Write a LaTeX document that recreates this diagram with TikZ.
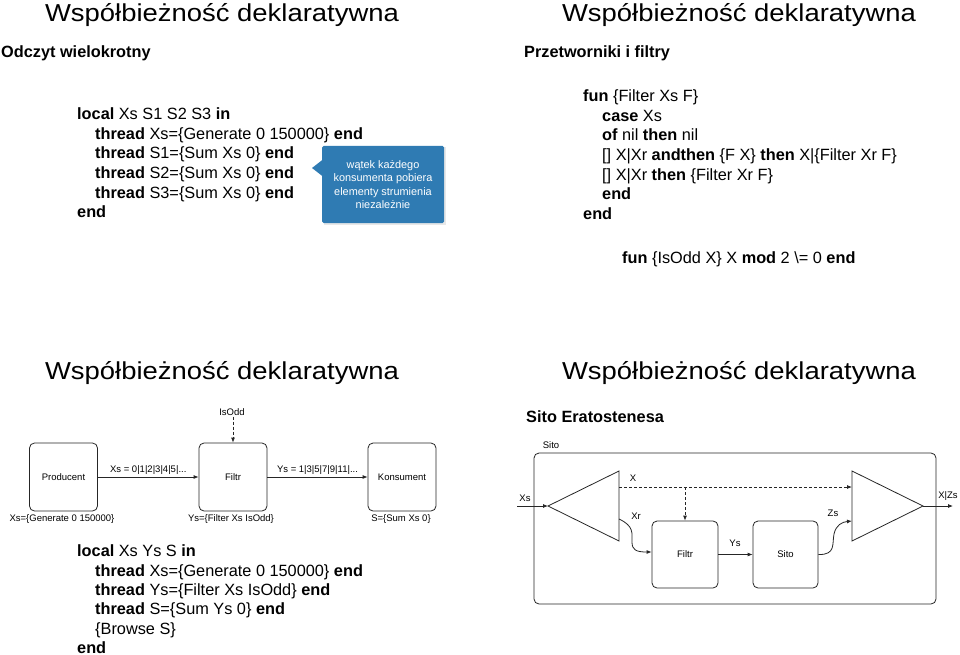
\documentclass[tikz,border=0pt]{standalone}
\usepackage{fontspec}
\setmainfont{Liberation Sans}
\newfontfamily\titlefont[FakeStretch=1.12]{Liberation Sans}
\usetikzlibrary{arrows.meta,calc}
\definecolor{cblue}{HTML}{2F7BB3}
\newcommand\fsTitle{\titlefont\fontsize{24.5}{28}\selectfont}
\newcommand\fsCode{\fontsize{16.3}{19.5}\selectfont}
\newcommand\fsCall{\fontsize{10.9}{13.3}\selectfont}
\newcommand\fsDiag{\fontsize{9.5}{11}\selectfont}
\newcommand\kw[1]{\textbf{#1}}
\begin{document}
\begin{tikzpicture}[x=1pt,y=-1pt,
  title/.style={anchor=base,inner sep=0pt,font=\fsTitle},
  subhead/.style={anchor=base west,inner sep=0pt,font=\fsCode\bfseries},
  code/.style={anchor=base west,inner sep=0pt,font=\fsCode},
  callout/.style={fill=cblue,text=white,font=\fsCall,align=center,minimum width=122pt,minimum height=77pt,inner sep=0pt,rounded corners=1.5pt},
  dlabel/.style={font=\fsDiag,inner sep=1pt},
  procbox/.style={draw=black!85,line width=0.8pt,rounded corners=5pt,minimum width=68pt,minimum height=68pt,inner sep=0pt,font=\fsDiag},
  wire/.style={draw=black!85,line width=0.8pt},
  arr/.style={wire,-{Latex[length=5pt,width=4pt]}},
  dsh/.style={dash pattern=on 3pt off 2pt}]
\useasboundingbox (0,0) rectangle (960,655);
\fill[white] (0,0) rectangle (960,655);

% ---------- titles ----------
\node[title] (t1) at (222,21.5) {Współbieżność deklaratywna};
\node[title] (t2) at (739,21.5) {Współbieżność deklaratywna};
\node[title] (t3) at (222,379.5) {Współbieżność deklaratywna};
\node[title] (t4) at (739,379.5) {Współbieżność deklaratywna};

% ---------- top-left ----------
\node[subhead] (h1) at (1,58) {Odczyt wielokrotny};
\node[code] (a1) at (77,120) {\kw{local} Xs S1 S2 S3 \kw{in}};
\node[code] (a2) at (95,139.5) {\kw{thread} Xs=\{Generate 0 150000\} \kw{end}};
\node[code] (a3) at (95,159) {\kw{thread} S1=\{Sum Xs 0\} \kw{end}};
\node[code] (a4) at (95,178.5) {\kw{thread} S2=\{Sum Xs 0\} \kw{end}};
\node[code] (a5) at (95,198) {\kw{thread} S3=\{Sum Xs 0\} \kw{end}};
\node[code] (a6) at (77,217.5) {\kw{end}};

\fill[black!9] (323.5,147.5) rectangle (445.5,224.5);
\node[callout] (call) at (383,184.5) {wątek każdego\\konsumenta pobiera\\elementy strumienia\\niezależnie};
\fill[cblue] ($(call.west |- 0,160)+(0.5,0)$) -- (312,168) -- ($(call.west |- 0,176)+(0.5,0)$) -- cycle;

% ---------- top-right ----------
\node[subhead] (h2) at (524,58) {Przetworniki i filtry};
\node[code] (b1) at (583,102) {\kw{fun} \{Filter Xs F\}};
\node[code] (b2) at (602,121.5) {\kw{case} Xs};
\node[code] (b3) at (602,141) {\kw{of} nil \kw{then} nil};
\node[code] (b4) at (602,160.5) {[] X|Xr \kw{andthen} \{F X\} \kw{then} X|\{Filter Xr F\}};
\node[code] (b5) at (602,180) {[] X|Xr \kw{then} \{Filter Xr F\}};
\node[code] (b6) at (602,199.5) {\kw{end}};
\node[code] (b7) at (583,219) {\kw{end}};
\node[code] (b8) at (622,263) {\kw{fun} \{IsOdd X\} X \kw{mod} 2 \textbackslash= 0 \kw{end}};

% ---------- bottom-left ----------
\node[procbox] (prod) at (63.5,477) {Producent};
\node[procbox] (filt) at (233,477) {Filtr};
\node[procbox] (kons) at (402,477) {Konsument};
\node[dlabel] (isodd) at (232,412) {IsOdd};
\draw[arr,dsh] (isodd.south -| filt.north) -- (filt.north);
\draw[arr] (prod) -- (filt) node[midway,above,dlabel,yshift=1pt] (xsl) {Xs = 0|1|2|3|4|5|...};
\draw[arr] (filt) -- (kons) node[midway,above,dlabel,yshift=1pt] (ysl) {Ys = 1|3|5|7|9|11|...};
\node[dlabel] (pl) at (62,519) {Xs=\{Generate 0 150000\}};
\node[dlabel] (fl) at (231,519) {Ys=\{Filter Xs IsOdd\}};
\node[dlabel] (kl) at (401,519) {S=\{Sum Xs 0\}};

\node[code] (c1) at (77,556.5) {\kw{local} Xs Ys S \kw{in}};
\node[code] (c2) at (95,576) {\kw{thread} Xs=\{Generate 0 150000\} \kw{end}};
\node[code] (c3) at (95,595.5) {\kw{thread} Ys=\{Filter Xs IsOdd\} \kw{end}};
\node[code] (c4) at (95,614.5) {\kw{thread} S=\{Sum Ys 0\} \kw{end}};
\node[code] (c5) at (95,634) {\{Browse S\}};
\node[code] (c6) at (77,653) {\kw{end}};

% ---------- bottom-right ----------
\node[subhead] (h4) at (526,422) {Sito Eratostenesa};
\node[draw=black!85,line width=0.8pt,rounded corners=5pt,minimum width=402pt,minimum height=151pt,inner sep=0pt] (outer) at (735,528.5) {};
\node[dlabel] (sitol) at (551,445) {Sito};

\coordinate (spl) at (548,506);
\coordinate (splX) at (619,487);
\coordinate (splXr) at (619,519);
\coordinate (mrg) at (923,506);
\coordinate (mrgX) at (852,487);
\coordinate (mrgZs) at (852,521);
\coordinate (xsin) at (517,506);
\coordinate (xzout) at (953,506);
\draw[wire,line join=miter] (spl) -- (619,471) -- (619,541) -- cycle;
\draw[wire,line join=miter] (mrg) -- (852,471) -- (852,541) -- cycle;

\node[procbox,minimum width=66pt,minimum height=67pt] (filt2) at (685,554.5) {Filtr};
\node[procbox,minimum width=65pt,minimum height=67pt] (sito2) at (785.5,554.5) {Sito};

\draw[arr] (xsin) -- (spl);
\draw[arr] (mrg) -- (xzout);
\draw[arr,dsh] (splX) -- (mrgX);
\draw[arr,dsh] (filt2.north |- splX) -- (filt2.north);
\draw[arr] (filt2) -- (sito2);
\draw[arr] (splXr) .. controls (634,526) and (632,533) .. (632,542) .. controls (632,550) and (636,552) .. ([yshift=2.5pt]filt2.west);
\draw[arr] (sito2.east) .. controls (836,555) and (832,544) .. (834,534) .. controls (836,525) and (842,522) .. (mrgZs);

\node[dlabel] (xsl2) at (525,498) {Xs};
\node[dlabel] (xl) at (633,478) {X};
\node[dlabel] (xrl) at (636,516) {Xr};
\node[dlabel] (ysl2) at (735,543) {Ys};
\node[dlabel] (zsl) at (833,513) {Zs};
\node[dlabel] (xzl) at (948,496) {X|Zs};
\end{tikzpicture}
\end{document}
